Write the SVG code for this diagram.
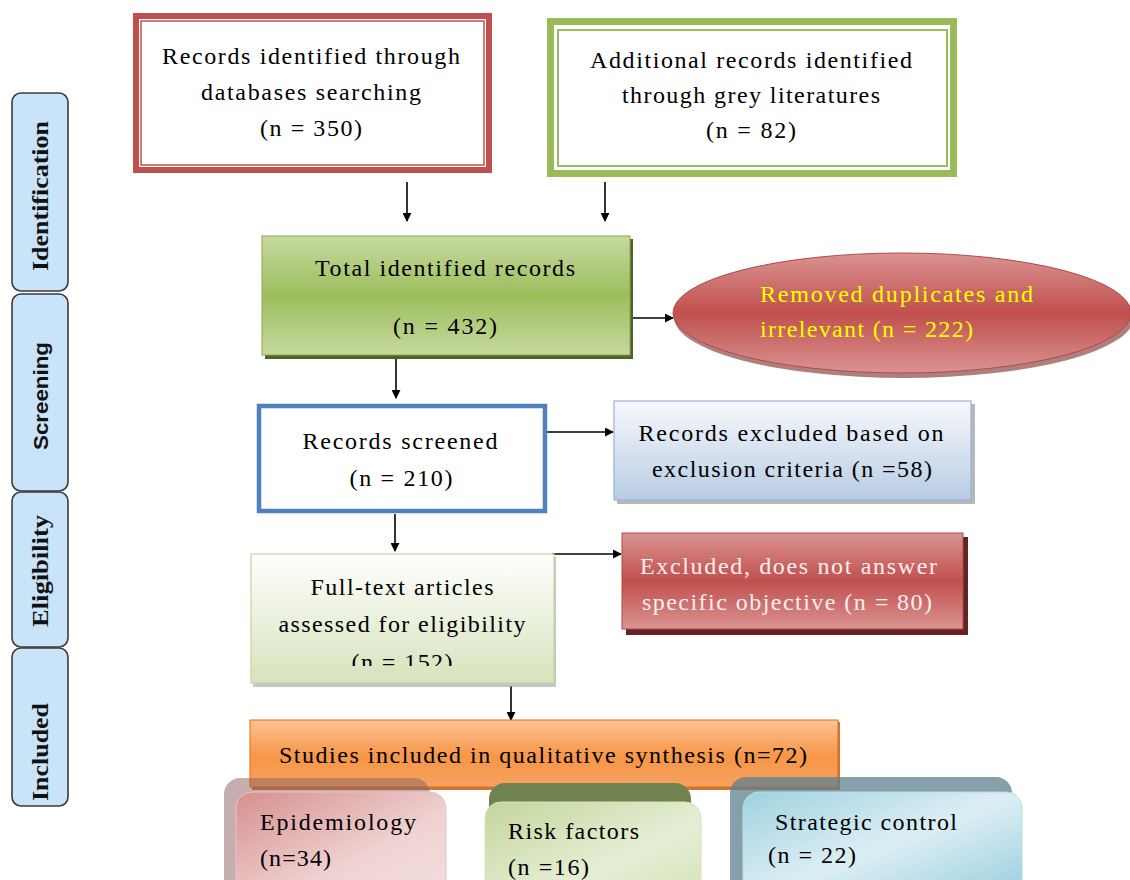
<svg xmlns="http://www.w3.org/2000/svg" width="1130" height="880" viewBox="0 0 1130 880">
<style>
.t{font-family:"Liberation Serif","Times New Roman",serif;font-size:24px;fill:#000;}
.tab{fill:#c9e3f8;stroke:#3a3a3a;stroke-width:1.6;}
.tabt{font-family:"Liberation Serif",serif;font-size:23px;font-weight:bold;fill:#111;}
.conn{stroke:#000;stroke-width:1.6;fill:none;marker-end:url(#ah);}
</style>
<defs>
<marker id="ah" viewBox="0 0 10 10" refX="9" refY="5" markerWidth="9" markerHeight="9" markerUnits="userSpaceOnUse" orient="auto">
<path d="M0,0 L10,5 L0,10 z" fill="#000"/>
</marker>
<linearGradient id="gGreen" x1="0" y1="0" x2="0" y2="1">
<stop offset="0" stop-color="#c6da9f"/><stop offset="0.5" stop-color="#9dbd5c"/><stop offset="1" stop-color="#c6da9f"/>
</linearGradient>
<linearGradient id="gRed" x1="0" y1="0" x2="0" y2="1">
<stop offset="0" stop-color="#da9392"/><stop offset="0.5" stop-color="#c0504d"/><stop offset="1" stop-color="#da9392"/>
</linearGradient>
<linearGradient id="gBlue" x1="0" y1="0" x2="0" y2="1">
<stop offset="0" stop-color="#f7f9fc"/><stop offset="1" stop-color="#b8cce4"/>
</linearGradient>
<linearGradient id="gLGreen" x1="0" y1="0" x2="0" y2="1">
<stop offset="0" stop-color="#ffffff"/><stop offset="1" stop-color="#d6e3bc"/>
</linearGradient>
<linearGradient id="gOrange" x1="0" y1="0" x2="0" y2="1">
<stop offset="0" stop-color="#fbc297"/><stop offset="0.55" stop-color="#f79646"/><stop offset="1" stop-color="#f5a262"/>
</linearGradient>
<linearGradient id="gPink" x1="0" y1="0" x2="1" y2="1">
<stop offset="0" stop-color="#d68f8e"/><stop offset="0.6" stop-color="#efd3d2"/><stop offset="1" stop-color="#f3dede"/>
</linearGradient>
<linearGradient id="gRisk" x1="0" y1="0" x2="1" y2="1">
<stop offset="0" stop-color="#c3d69b"/><stop offset="0.6" stop-color="#e6eed6"/><stop offset="1" stop-color="#d3e2b3"/>
</linearGradient>
<linearGradient id="gCyan" x1="0" y1="0" x2="1" y2="1">
<stop offset="0" stop-color="#9fd2e0"/><stop offset="0.5" stop-color="#dceef4"/><stop offset="1" stop-color="#95cddc"/>
</linearGradient>
<clipPath id="clipFT"><rect x="250" y="554" width="305" height="112"/></clipPath>
</defs>

<g id="stage-tabs">
<g id="tab-identification">
<rect class="tab" x="12" y="93" width="56" height="198" rx="9"/>
<text class="tabt" transform="translate(48,196) rotate(-90)" text-anchor="middle" textLength="150" lengthAdjust="spacingAndGlyphs">Identification</text>
</g>
<g id="tab-screening">
<rect class="tab" x="12" y="294" width="56" height="197" rx="9"/>
<text class="tabt" transform="translate(48,396) rotate(-90)" text-anchor="middle" style="font-family:'Liberation Sans',sans-serif;font-size:20px" textLength="108" lengthAdjust="spacingAndGlyphs">Screening</text>
</g>
<g id="tab-eligibility">
<rect class="tab" x="12" y="492" width="56" height="155" rx="9"/>
<text class="tabt" transform="translate(48,571) rotate(-90)" text-anchor="middle" textLength="112" lengthAdjust="spacingAndGlyphs">Eligibility</text>
</g>
<g id="tab-included">
<rect class="tab" x="12" y="648" width="56" height="158" rx="9"/>
<text class="tabt" transform="translate(48,752) rotate(-90)" text-anchor="middle" textLength="98" lengthAdjust="spacingAndGlyphs">Included</text>
</g>
</g>

<g id="connectors">
<line class="conn" x1="407" y1="182" x2="407" y2="221"/>
<line class="conn" x1="605" y1="182" x2="605" y2="221"/>
<line class="conn" x1="631" y1="318" x2="673" y2="318"/>
<line class="conn" x1="396" y1="358" x2="396" y2="398"/>
<line class="conn" x1="547" y1="432" x2="613" y2="432"/>
<line class="conn" x1="395" y1="514" x2="395" y2="551"/>
<line class="conn" x1="552" y1="554" x2="621" y2="554"/>
<line class="conn" x1="511" y1="686" x2="511" y2="720"/>
</g>

<g id="node-databases">
<rect x="136" y="16" width="353" height="154" fill="#fff" stroke="#c0504d" stroke-width="6"/>
<rect x="141" y="21" width="343" height="144" fill="none" stroke="#c0504d" stroke-width="1.5"/>
<text class="t" x="311" y="64" text-anchor="middle" textLength="298" lengthAdjust="spacing">Records identified through</text>
<text class="t" x="311" y="100" text-anchor="middle" textLength="220" lengthAdjust="spacing">databases searching</text>
<text class="t" x="311" y="136" text-anchor="middle" textLength="102" lengthAdjust="spacing">(n = 350)</text>
</g>

<g id="node-grey">
<rect x="550.5" y="21.5" width="403" height="152" fill="#fff" stroke="#9bbb59" stroke-width="7"/>
<rect x="558" y="30" width="389" height="136" fill="none" stroke="#9bbb59" stroke-width="2"/>
<text class="t" x="751" y="68" text-anchor="middle" textLength="322" lengthAdjust="spacing">Additional records identified</text>
<text class="t" x="751" y="103" text-anchor="middle" textLength="258" lengthAdjust="spacing">through grey literatures</text>
<text class="t" x="751" y="138" text-anchor="middle" textLength="90" lengthAdjust="spacing">(n = 82)</text>
</g>

<g id="node-total">
<rect x="265" y="239" width="368" height="120" fill="#4f6228"/>
<rect x="262" y="236" width="368" height="119" fill="url(#gGreen)" stroke="#8aa84f" stroke-width="1"/>
<text class="t" x="445" y="276" text-anchor="middle" textLength="260" lengthAdjust="spacing">Total identified records</text>
<text class="t" x="445" y="334" text-anchor="middle" textLength="104" lengthAdjust="spacing">(n = 432)</text>
</g>

<g id="node-removed">
<ellipse cx="904" cy="317" rx="230" ry="61" fill="#7a2a28" opacity="0.6"/>
<ellipse cx="902" cy="313" rx="229" ry="60" fill="url(#gRed)" stroke="#b04a47" stroke-width="1"/>
<text class="t" x="760" y="302" style="fill:#ffff00" textLength="273" lengthAdjust="spacing">Removed duplicates and</text>
<text class="t" x="760" y="337" style="fill:#ffff00" textLength="213" lengthAdjust="spacing">irrelevant (n = 222)</text>
</g>

<g id="node-screened">
<rect x="259" y="406" width="286" height="105" fill="#fff" stroke="#4f81bd" stroke-width="4.5"/>
<text class="t" x="400" y="449" text-anchor="middle" textLength="195" lengthAdjust="spacing">Records screened</text>
<text class="t" x="401" y="486" text-anchor="middle" textLength="103" lengthAdjust="spacing">(n = 210)</text>
</g>

<g id="node-excluded-criteria">
<rect x="617" y="404" width="358" height="100" fill="#9a9a9a" opacity="0.7"/>
<rect x="614" y="401" width="357" height="99" fill="url(#gBlue)" stroke="#95b3d7" stroke-width="1.2"/>
<text class="t" x="791" y="441" text-anchor="middle" textLength="305" lengthAdjust="spacing">Records excluded based on</text>
<text class="t" x="792" y="477" text-anchor="middle" textLength="280" lengthAdjust="spacing">exclusion criteria (n =58)</text>
</g>

<g id="node-fulltext">
<rect x="253" y="557" width="303" height="130" fill="#a0a0a0" opacity="0.6"/>
<rect x="251" y="554" width="303" height="129" fill="url(#gLGreen)" stroke="#c3d69b" stroke-width="1.2"/>
<text class="t" x="402" y="595" text-anchor="middle" textLength="183" lengthAdjust="spacing">Full-text articles</text>
<text class="t" x="402" y="632" text-anchor="middle" textLength="247" lengthAdjust="spacing">assessed for eligibility</text>
<text class="t" x="402" y="670" text-anchor="middle" textLength="101" lengthAdjust="spacing" clip-path="url(#clipFT)">(n = 152)</text>
</g>

<g id="node-excluded-objective">
<rect x="626" y="537" width="342" height="98" fill="#632523"/>
<rect x="622" y="533" width="341" height="96" fill="url(#gRed)" stroke="#b04a47" stroke-width="1"/>
<text class="t" x="640" y="574" style="fill:#fbeeee" textLength="297" lengthAdjust="spacing">Excluded, does not answer</text>
<text class="t" x="642" y="610" style="fill:#fbeeee" textLength="290" lengthAdjust="spacing">specific objective (n = 80)</text>
</g>

<g id="node-included">
<rect x="252" y="722" width="588" height="68" fill="#b65708" opacity="0.8"/>
<rect x="250" y="720" width="588" height="67" fill="url(#gOrange)" stroke="#e46c0a" stroke-width="1"/>
<text class="t" x="543" y="763" text-anchor="middle" textLength="528" lengthAdjust="spacing">Studies included in qualitative synthesis (n=72)</text>
</g>

<g id="node-epidemiology">
<rect x="224" y="778" width="206" height="120" rx="16" fill="#8a5e5e" opacity="0.5"/>
<rect x="236" y="792" width="210" height="110" rx="16" fill="url(#gPink)" stroke="#e8c4c3" stroke-width="1"/>
<text class="t" x="260" y="830" textLength="156" lengthAdjust="spacing">Epidemiology</text>
<text class="t" x="260" y="866" textLength="71" lengthAdjust="spacing">(n=34)</text>
</g>

<g id="node-risk">
<rect x="489" y="783" width="202" height="110" rx="16" fill="#6f8350"/>
<rect x="485" y="802" width="216" height="100" rx="16" fill="url(#gRisk)" stroke="#d7e4bd" stroke-width="1"/>
<text class="t" x="508" y="839" textLength="131" lengthAdjust="spacing">Risk factors</text>
<text class="t" x="508" y="875" textLength="81" lengthAdjust="spacing">(n =16)</text>
</g>

<g id="node-strategic">
<rect x="730" y="777" width="282" height="120" rx="16" fill="#5d7f8c" opacity="0.75"/>
<rect x="743" y="792" width="279" height="110" rx="16" fill="url(#gCyan)" stroke="#b6dde8" stroke-width="1"/>
<text class="t" x="775" y="830" textLength="182" lengthAdjust="spacing">Strategic control</text>
<text class="t" x="768" y="863" textLength="88" lengthAdjust="spacing">(n = 22)</text>
</g>
</svg>
